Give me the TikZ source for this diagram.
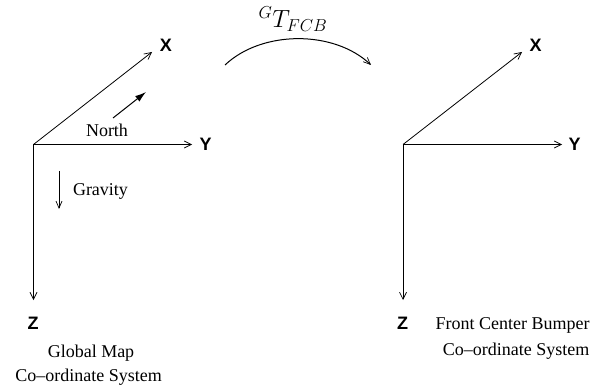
\documentclass[tikz,border=0pt]{standalone}
\usepackage{fontspec}
\setmainfont{Liberation Serif}
\newfontfamily\axisfont{Liberation Sans}
\usetikzlibrary{arrows.meta}
\begin{document}
\begin{tikzpicture}[x=1pt,y=-1pt,
  axis/.style={line width=0.8pt,-{Straight Barb[length=7pt,width=7pt,line width=0.7pt]}},
  axlabel/.style={font=\axisfont\bfseries\fontsize{18}{20}\selectfont,inner sep=0pt},
  txt/.style={font=\fontsize{18}{22}\selectfont,inner sep=0pt,anchor=base},
  solidarrow/.style={line width=1pt,-{Latex[length=11pt,width=7pt]}},
  openarrow/.style={line width=0.8pt,-{Straight Barb[length=7pt,width=6pt,line width=0.7pt]}}]
\useasboundingbox (0,0) rectangle (593,387);
% left frame
\coordinate (O1) at (33.5,144.5);
\coordinate (X1) at (152,52);
\coordinate (Y1) at (192,144.5);
\coordinate (Z1) at (33.5,300);
\node[axlabel] (lx1) at (166,45) {X};
\node[axlabel] (ly1) at (205.5,144) {Y};
\node[axlabel] (lz1) at (33,323) {Z};
\draw[axis] (O1) -- (X1);
\draw[axis] (O1) -- (Y1);
\draw[axis] (O1) -- (Z1);
\coordinate (N0) at (113,118);
\coordinate (N1) at (146,92);
\draw[solidarrow] (N0) -- (N1);
\node[txt] (north) at (107,137) {North};
\coordinate (G0) at (59,171);
\coordinate (G1) at (59,209);
\draw[openarrow] (G0) -- (G1);
\node[txt] (grav) at (100.5,196) {Gravity};
\node[txt] (gm) at (91,357) {Global Map};
\node[txt] (gcs) at (88.5,381) {Co--ordinate System};
% right frame
\coordinate (O2) at (403,144.5);
\coordinate (X2) at (522,52);
\coordinate (Y2) at (562,144.5);
\coordinate (Z2) at (403,300);
\node[axlabel] (lx2) at (535.5,45) {X};
\node[axlabel] (ly2) at (574.5,144) {Y};
\node[axlabel] (lz2) at (402.5,323) {Z};
\draw[axis] (O2) -- (X2);
\draw[axis] (O2) -- (Y2);
\draw[axis] (O2) -- (Z2);
\node[txt] (fcb) at (512.5,329) {Front Center Bumper};
\node[txt] (fcs) at (516,355) {Co--ordinate System};
% transform arc
\coordinate (A0) at (225,65);
\coordinate (A1) at (371,65);
\draw[openarrow,line width=1pt] (A0) .. controls (262,30) and (334,30) .. (A1);
\node[inner sep=0pt,font=\fontsize{23}{27}\selectfont] (T) at (293,19) {${}^{G}T_{FCB}$};
\end{tikzpicture}
\end{document}
